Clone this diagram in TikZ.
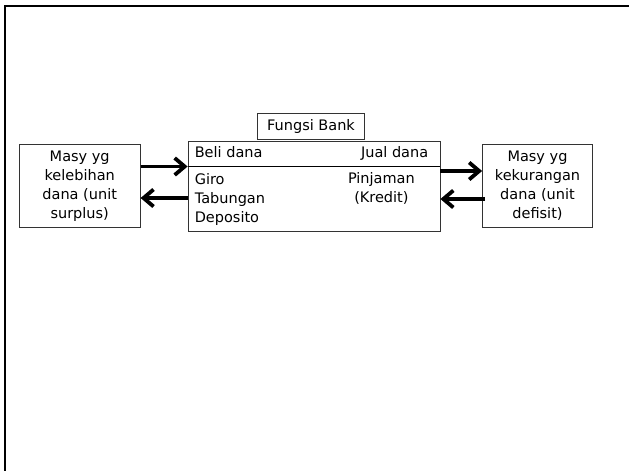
\documentclass[tikz,border=0pt]{standalone}
\usepackage{fontspec}
\setmainfont{DejaVu Sans}
\usetikzlibrary{positioning,arrows.meta}
\tikzstyle{masy}=[draw=black!80, line width=0.8pt, rectangle, align=center, inner sep=0pt, minimum width=121pt, minimum height=83pt, font=\fontsize{14.5}{19}\selectfont]
\tikzstyle{isi}=[inner sep=0pt, font=\fontsize{14.5}{19}\selectfont]

\begin{document}
\begin{tikzpicture}[x=1pt, y=-1pt, flow/.style={line width=3.8pt, -{Straight Barb[length=10pt,width=17pt]}}]
\useasboundingbox (0,0) rectangle (629,471);
\draw[line width=2pt] (4.5,472) -- (4.5,5.5) -- (630,5.5);

\node[masy, minimum width=252pt, minimum height=90pt] (bank) at (314,186) {};
\draw[line width=1.3pt] ([yshift=19.3pt]bank.west) -- ([yshift=19.3pt]bank.east);
\node[masy, inner xsep=10pt, minimum width=0pt, minimum height=25.7pt, above=1.3pt of bank, xshift=-3pt] (judul) {Fungsi Bank};

\node[isi, anchor=north west] (beli) at ([xshift=7pt,yshift=-6pt]bank.north west) {Beli dana};
\node[isi, anchor=north east] (jual) at ([xshift=-12pt,yshift=-6pt]bank.north east) {Jual dana};
\node[isi, anchor=north west, align=left] (simpanan) at ([xshift=7pt,yshift=-33pt]bank.north west) {Giro\\Tabungan\\Deposito};
\node[isi, anchor=north, align=center] (kredit) at ([xshift=-59pt,yshift=-32pt]bank.north east) {Pinjaman\\(Kredit)};

\node[masy, left=47pt of bank] (surplus) {Masy yg\\kelebihan\\dana (unit\\surplus)};
\node[masy, minimum width=110pt, right=41.7pt of bank] (defisit) {Masy yg\\kekurangan\\dana (unit\\defisit)};

\draw[flow] ([yshift=19.5pt]surplus.east) -- ([yshift=19.5pt]bank.west);
\draw[flow] ([yshift=-12pt]bank.west) -- ([yshift=-12pt]surplus.east);
\draw[flow] ([yshift=15pt]bank.east) -- ([yshift=15pt]defisit.west);
\draw[flow] ([xshift=3pt,yshift=-13pt]defisit.west) -- ([yshift=-13pt]bank.east);
\end{tikzpicture}
\end{document}
